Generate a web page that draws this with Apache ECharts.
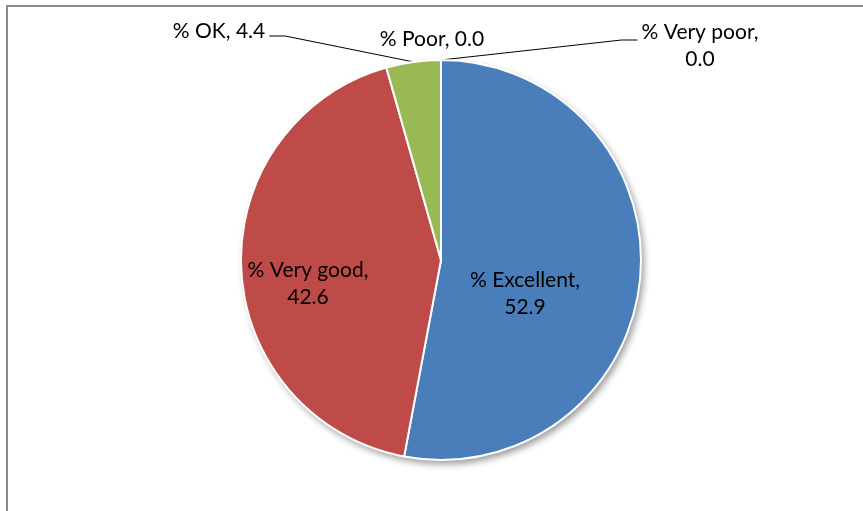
<!DOCTYPE html>
<html>
<head>
<meta charset="utf-8">
<script src="https://cdn.jsdelivr.net/npm/echarts@6/dist/echarts.min.js"></script>
<style>
  html, body { margin: 0; padding: 0; background: #ffffff; }
  #chart { width: 863px; height: 511px; }
</style>
</head>
<body>
<div id="chart"></div>
<script>
// Survey rating shares (percent)
const categories = ['% Excellent', '% Very good', '% OK', '% Poor', '% Very poor'];
const values = [52.9, 42.6, 4.4, 0.0, 0.0];
const sliceColors = ['#4A7EBB', '#BE4B48', '#98B954', '#7D60A0', '#46AAC5'];

// Where each data label sits (label centre), keyed by slice index
const labelSpots = [
  { x: 525, y: 294 },
  { x: 308, y: 284 },
  { x: 219, y: 31 },
  { x: 432, y: 39 },
  { x: 700, y: 46 }
];
const multiLine = [true, true, false, false, true];
// leader side: 1 = line leaves the label's right edge, -1 = left edge, 0 = none
const leaderSide = [0, 0, 1, 0, -1];

const pieCenter = [441, 260];
const pieRadius = 200;
const font = 'Lato, "Liberation Sans", sans-serif';

// angle (radians, clockwise from 12 o'clock) at the middle of each slice
const total = values.reduce((a, b) => a + b, 0);
const midAngles = [];
{
  let acc = 0;
  values.forEach(v => {
    midAngles.push(2 * Math.PI * (acc + v / 2) / total);
    acc += v;
  });
}

const chart = echarts.init(document.getElementById('chart'), null, { renderer: 'canvas' });

const pieData = categories.map((name, i) => ({
  name: name,
  value: values[i],
  itemStyle: { color: sliceColors[i] },
  label: { position: (i < 2) ? 'inside' : 'outside' },
  labelLine: { show: leaderSide[i] !== 0 }
}));

chart.setOption({
  animation: false,
  backgroundColor: '#ffffff',
  graphic: [{
    type: 'rect',
    shape: { x: 7, y: 6, width: 1000, height: 800 },
    style: { fill: 'none', stroke: '#8a8a8a', lineWidth: 2 },
    silent: true,
    z: 0
  }],
  series: [
    {
      // soft drop shadow beneath the pie
      type: 'pie',
      silent: true,
      center: pieCenter,
      radius: [0, pieRadius],
      startAngle: 90,
      label: { show: false },
      labelLine: { show: false },
      itemStyle: {
        color: '#ffffff',
        borderWidth: 0,
        shadowBlur: 7,
        shadowColor: 'rgba(0,0,0,0.4)',
        shadowOffsetX: 3,
        shadowOffsetY: 4
      },
      data: [{ name: 'all', value: 1 }],
      z: 1
    },
    {
      type: 'pie',
      center: pieCenter,
      radius: [0, pieRadius],
      startAngle: 90,
      clockwise: true,
      avoidLabelOverlap: false,
      stillShowZeroSum: true,
      itemStyle: { borderColor: '#ffffff', borderWidth: 2 },
      label: {
        show: true,
        color: '#000000',
        fontFamily: font,
        fontSize: 21,
        lineHeight: 27,
        align: 'center',
        formatter: function (p) {
          const v = Number(p.value).toFixed(1);
          return multiLine[p.dataIndex] ? p.name + ',\n' + v : p.name + ', ' + v;
        }
      },
      labelLine: {
        show: true,
        lineStyle: { color: '#000000', width: 1 }
      },
      labelLayout: function (params) {
        const i = params.dataIndex;
        const s = labelSpots[i];
        const out = { x: s.x, y: s.y, align: 'center', verticalAlign: 'middle' };
        const side = leaderSide[i];
        if (side !== 0) {
          const w = params.labelRect.width;
          const h = params.labelRect.height;
          const a = midAngles[i];
          const anchor = [
            pieCenter[0] + pieRadius * Math.sin(a),
            pieCenter[1] - pieRadius * Math.cos(a)
          ];
          // leader meets the label near the baseline of its first line
          const ly = multiLine[i] ? s.y - h / 2 + 21 : s.y + 5;
          const edge = s.x + side * (w / 2 + 4);
          out.labelLinePoints = [anchor, [edge + side * 16, ly], [edge, ly]];
        }
        return out;
      },
      data: pieData,
      z: 2
    }
  ]
});
</script>
</body>
</html>
